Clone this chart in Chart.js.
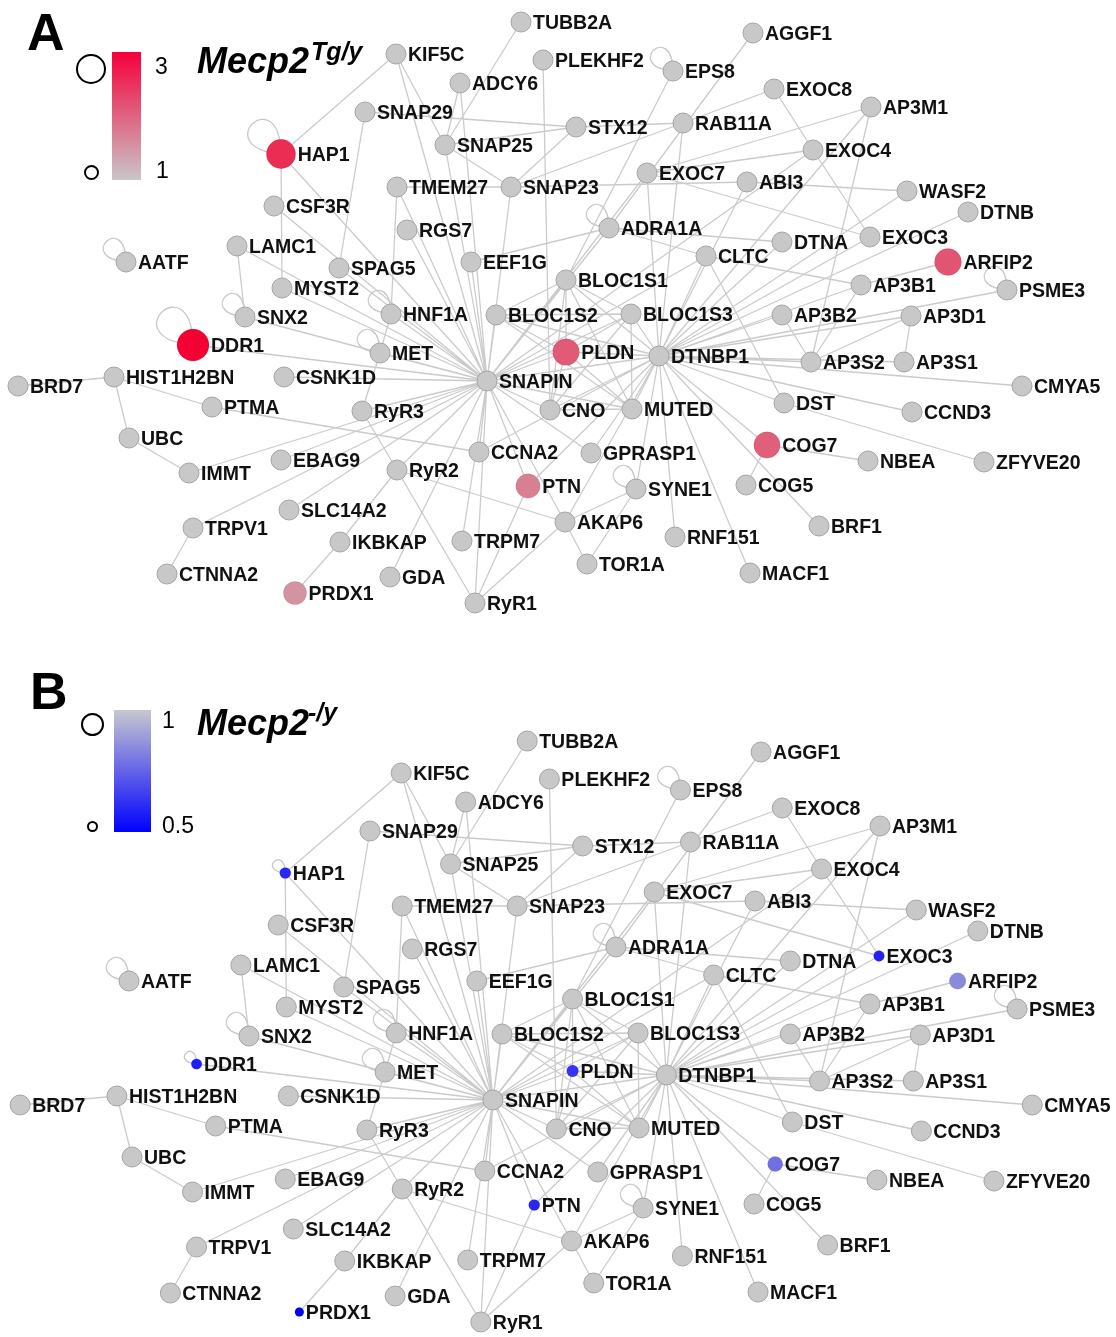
<!DOCTYPE html>
<html><head><meta charset="utf-8">
<script src="https://cdn.jsdelivr.net/npm/chart.js@4.4.1/dist/chart.umd.min.js"></script>
<style>
html,body{margin:0;padding:0;background:#fff;}
#wrap{position:relative;width:1116px;height:1337px;overflow:hidden;font-family:'Liberation Sans',Arial,Helvetica,sans-serif;}
canvas{position:absolute;left:0;}
.t{position:absolute;line-height:1;white-space:nowrap;color:#000;z-index:3;}
.bold{font-weight:bold;}
.it{font-style:italic;font-weight:bold;}
.circ{position:absolute;border:2.5px solid #000;border-radius:50%;box-sizing:border-box;z-index:3;}
.bar{position:absolute;z-index:3;}
</style></head>
<body><div id="wrap">
<canvas id="chartA" width="1116" height="668" style="top:0px"></canvas>
<canvas id="chartB" width="1116" height="668" style="top:669px"></canvas>

<div class="t bold" style="left:27px;top:6px;font-size:52px;">A</div>
<div class="circ" style="left:76px;top:54px;width:30px;height:30px;"></div>
<div class="circ" style="left:83.5px;top:164.5px;width:15px;height:15px;"></div>
<div class="bar" style="left:112px;top:52px;width:29px;height:128px;background:linear-gradient(#f5003a,#c9c6c9);"></div>
<div class="t" style="left:155px;top:54.5px;font-size:23px;">3</div>
<div class="t" style="left:156px;top:158.5px;font-size:23px;">1</div>
<div class="t it" style="left:197px;top:42.5px;font-size:36px;">Mecp2</div>
<div class="t it" style="left:311px;top:38.8px;font-size:25px;">Tg/y</div>

<div class="t bold" style="left:30px;top:665px;font-size:52px;">B</div>
<div class="circ" style="left:80.5px;top:712.5px;width:23px;height:23px;"></div>
<div class="circ" style="left:86.5px;top:820.5px;width:11px;height:11px;border-width:2px;"></div>
<div class="bar" style="left:114px;top:710px;width:37px;height:122px;background:linear-gradient(#c8c8d0,#0000ff);"></div>
<div class="t" style="left:162px;top:708.5px;font-size:23px;">1</div>
<div class="t" style="left:162px;top:813.5px;font-size:23px;">0.5</div>
<div class="t it" style="left:197px;top:704.5px;font-size:36px;">Mecp2</div>
<div class="t it" style="left:308px;top:700px;font-size:25px;">-/y</div>
</div>
<script>
// ---- node layout (network coordinates) ----
const nodeNames = ['TUBB2A','KIF5C','PLEKHF2','ADCY6','AGGF1','EPS8','EXOC8','AP3M1','SNAP29','STX12',
 'RAB11A','HAP1','SNAP25','EXOC4','EXOC7','ABI3','TMEM27','SNAP23','WASF2','CSF3R',
 'DTNB','RGS7','ADRA1A','LAMC1','DTNA','EXOC3','CLTC','AATF','EEF1G','SPAG5',
 'ARFIP2','BLOC1S1','AP3B1','MYST2','PSME3','HNF1A','BLOC1S2','BLOC1S3','SNX2','AP3B2',
 'AP3D1','DDR1','MET','PLDN','DTNBP1','AP3S2','AP3S1','BRD7','HIST1H2BN','CSNK1D',
 'SNAPIN','CMYA5','PTMA','RyR3','CNO','MUTED','DST','CCND3','UBC','CCNA2',
 'GPRASP1','COG7','EBAG9','NBEA','ZFYVE20','IMMT','RyR2','PTN','SYNE1','COG5',
 'SLC14A2','AKAP6','BRF1','TRPV1','IKBKAP','TRPM7','RNF151','TOR1A','CTNNA2','GDA',
 'MACF1','PRDX1','RyR1'];
const nodeX = [521,396,543,460,753,673,774,871,365,576,
 683,281,445,813,647,747,397,511,907,274,
 968,407,609,237,782,870,706,126,471,339,
 948,566,861,282,1007,391,496,631,245,782,
 911,193,380,566,659,811,904,18,114,284,
 487,1022,212,362,550,632,784,912,129,479,
 591,767,281,868,984,189,397,528,636,746,
 289,565,819,193,340,462,675,587,167,390,
 750,295,475];
const nodeY = [22,54,60,83,33,71,89,107,112,127,
 123,154,145,150,173,182,187,187,191,206,
 212,230,228,246,242,237,256,262,262,268,
 262,280,285,288,290,314,315,314,317,315,
 316,345,353,352,356,362,362,386,377,377,
 381,386,407,411,410,409,403,412,438,452,
 453,445,460,461,462,473,470,486,489,485,
 510,522,526,528,542,541,537,564,574,577,
 573,593,603];

// ---- node values (fold change), genes not listed = 1 ----
const tgGenes = ['DDR1','HAP1','ARFIP2','PLDN','COG7','PTN','PRDX1'];
const tgFold  = [3.0, 2.55, 2.15, 2.1, 2.05, 1.72, 1.53];
const koGenes = ['HAP1','DDR1','EXOC3','PLDN','PTN','PRDX1','ARFIP2','COG7'];
const koFold  = [0.6, 0.575, 0.585, 0.63, 0.6, 0.5, 0.845, 0.78];

// ---- interactions ----
const snapinPartners = ['HAP1','MYST2','SPAG5','SNX2','DDR1','MET','HNF1A','CSNK1D','TMEM27','RGS7',
 'KIF5C','ADCY6','SNAP25','SNAP23','EEF1G','BLOC1S2','BLOC1S1','BLOC1S3','PLDN','DTNBP1',
 'CNO','MUTED','CCNA2','PTN','TRPM7','RyR1','RyR2','RyR3','EBAG9','IMMT',
 'TRPV1','SLC14A2','GDA','AKAP6','GPRASP1','ADRA1A','EXOC7','EXOC4','CLTC','LAMC1','CSF3R'];
const dtnbp1Partners = ['BLOC1S1','BLOC1S2','BLOC1S3','PLDN','CNO','MUTED','DTNA','DTNB','AP3B1','AP3B2',
 'AP3D1','AP3S1','AP3S2','AP3M1','CMYA5','CCND3','DST','COG7','BRF1','MACF1',
 'RNF151','SYNE1','GPRASP1','AKAP6','CLTC','ABI3','EXOC7','RAB11A','WASF2','PSME3',
 'CCNA2','PTN','EXOC3'];
const otherEdges = [
 ['BLOC1S1','BLOC1S2'],['BLOC1S1','BLOC1S3'],['BLOC1S1','PLDN'],['BLOC1S1','CNO'],['BLOC1S1','MUTED'],
 ['BLOC1S2','PLDN'],['BLOC1S2','BLOC1S3'],['BLOC1S2','MUTED'],['BLOC1S3','PLDN'],['BLOC1S3','MUTED'],
 ['BLOC1S3','CNO'],['PLDN','CNO'],['PLDN','MUTED'],['CNO','MUTED'],
 ['KIF5C','HAP1'],['KIF5C','SNAP25'],['HAP1','MYST2'],['LAMC1','SNX2'],['SNAP29','STX12'],['SNAP29','SPAG5'],
 ['SNAP25','ADCY6'],['SNAP25','TUBB2A'],['SNAP25','STX12'],['SNAP25','SNAP23'],
 ['TMEM27','SNAP23'],['TMEM27','HNF1A'],['SNAP23','STX12'],['SNAP23','ABI3'],['SNAP23','EXOC8'],
 ['STX12','RAB11A'],['PLEKHF2','CNO'],['ABI3','WASF2'],
 ['EXOC7','EXOC4'],['EXOC7','EXOC3'],['EXOC7','AP3M1'],['EXOC4','EXOC8'],['EXOC4','EXOC3'],
 ['AGGF1','ADRA1A'],['EPS8','BLOC1S1'],['AP3M1','AP3S2'],
 ['ADRA1A','DTNA'],['ADRA1A','CLTC'],['ADRA1A','EEF1G'],['CLTC','AP3B1'],['CLTC','DST'],
 ['AP3B1','ARFIP2'],['AP3B1','AP3S2'],['AP3B2','AP3S2'],['AP3D1','AP3S1'],['AP3D1','AP3S2'],
 ['DST','ZFYVE20'],['COG7','NBEA'],['COG7','COG5'],
 ['SYNE1','AKAP6'],['SYNE1','TOR1A'],['AKAP6','TOR1A'],['AKAP6','RyR1'],['AKAP6','RyR2'],
 ['CCNA2','PTMA'],['PTN','RyR1'],['RyR1','RyR2'],['RyR2','RyR3'],['RyR3','MET'],['RyR2','IKBKAP'],['IKBKAP','PRDX1'],
 ['HIST1H2BN','BRD7'],['HIST1H2BN','UBC'],['HIST1H2BN','PTMA'],['UBC','IMMT'],['TRPV1','CTNNA2'],['MET','HNF1A']
];
const selfLoops = ['HAP1','AATF','SNX2','DDR1','MET','HNF1A','EPS8','ADRA1A','PSME3','SYNE1'];

// ---------------------------------------------------------------
const idx = {}; nodeNames.forEach((n,i)=>idx[n]=i);
const edgePairs = [];
snapinPartners.forEach(p=>edgePairs.push(['SNAPIN',p]));
dtnbp1Partners.forEach(p=>{ if(p!=='SNAPIN') edgePairs.push(['DTNBP1',p]); });
otherEdges.forEach(e=>edgePairs.push(e));

function mix(c1,c2,t){return c1.map((v,i)=>Math.round(v+(c2[i]-v)*t));}
function rgb(c){return 'rgb('+c.join(',')+')';}
const GRAY=[200,200,200];
function colorA(v){ if(v===1) return rgb(GRAY); return rgb(mix([200,200,200],[245,0,50],(v-1)/2)); }
function radiusA(v){ return 10 + 3*(v-1); }
function colorB(v){ if(v===1) return rgb(GRAY); return rgb(mix([200,200,205],[0,0,255],(1-v)/0.5)); }
function radiusB(v){ return 4.5 + 11*(v-0.5); }

const loopPlugin = {
  id:'loops',
  beforeDatasetsDraw(chart){
    const meta = chart.getDatasetMeta(0); const ctx = chart.ctx;
    ctx.save(); ctx.strokeStyle='#c8c8c8'; ctx.lineWidth=1.3;
    const d={x:-0.68,y:-0.73}, p={x:0.73,y:-0.68};
    selfLoops.forEach(n=>{
      const el = meta.data[idx[n]]; const r = el.options.radius; const s = 1.9*r;
      const x=el.x, y=el.y;
      ctx.beginPath(); ctx.moveTo(x,y);
      ctx.bezierCurveTo(x+s*(2*d.x+1.8*p.x), y+s*(2*d.y+1.8*p.y), x+s*(2*d.x-1.8*p.x), y+s*(2*d.y-1.8*p.y), x, y);
      ctx.stroke();
    });
    ctx.restore();
  }
};
const labelPlugin = {
  id:'nodeLabels',
  afterDatasetsDraw(chart){
    const meta = chart.getDatasetMeta(0); const ctx = chart.ctx;
    ctx.save(); ctx.font = "bold 19.5px 'Liberation Sans', Arial, sans-serif";
    ctx.fillStyle='#111'; ctx.textBaseline='alphabetic'; ctx.textAlign='left';
    meta.data.forEach((el,i)=>{ const r=el.options.radius; ctx.fillText(nodeNames[i], el.x + r + 2, el.y + 7); });
    ctx.restore();
  }
};

function build(id, genes, folds, colorFn, radiusFn, xr, yr){
  const fold = {}; genes.forEach((g,i)=>fold[g]=folds[i]);
  const vals = nodeNames.map(n => fold[n]!==undefined ? fold[n] : 1);
  const pts = nodeNames.map((n,i)=>({x:nodeX[i], y:nodeY[i]}));
  const radii = vals.map(radiusFn);
  const fills = vals.map(colorFn);
  const borders = vals.map(v => v===1 ? '#a4a4a4' : 'rgba(0,0,0,0.08)');
  const edgePts = [];
  edgePairs.forEach(([a,b])=>{
    const i=idx[a], j=idx[b];
    edgePts.push({x:nodeX[i],y:nodeY[i]},{x:nodeX[j],y:nodeY[j]},{x:null,y:null});
  });
  return new Chart(document.getElementById(id), {
    type:'scatter',
    data:{datasets:[
      {label:'genes', data:pts, pointRadius:radii, pointHoverRadius:radii,
       pointBackgroundColor:fills, pointBorderColor:borders, pointBorderWidth:1, order:0, clip:false},
      {label:'interactions', data:edgePts, showLine:true, spanGaps:false, pointRadius:0, pointHoverRadius:0,
       borderColor:'#cbcbcb', borderWidth:1.3, fill:false, tension:0, order:1, clip:false}
    ]},
    options:{responsive:false, animation:false, events:[], layout:{padding:0, autoPadding:false},
      plugins:{legend:{display:false}, tooltip:{enabled:false}},
      scales:{x:{type:'linear', min:xr[0], max:xr[1], display:false},
              y:{type:'linear', min:yr[0], max:yr[1], reverse:true, display:false}}},
    plugins:[loopPlugin, labelPlugin]
  });
}
build('chartA', tgGenes, tgFold, colorA, radiusA, [0,1116], [0,668]);
build('chartB', koGenes, koFold, colorB, radiusB, [-1.98,1105.1], [-50,618]);
</script>
</body></html>
